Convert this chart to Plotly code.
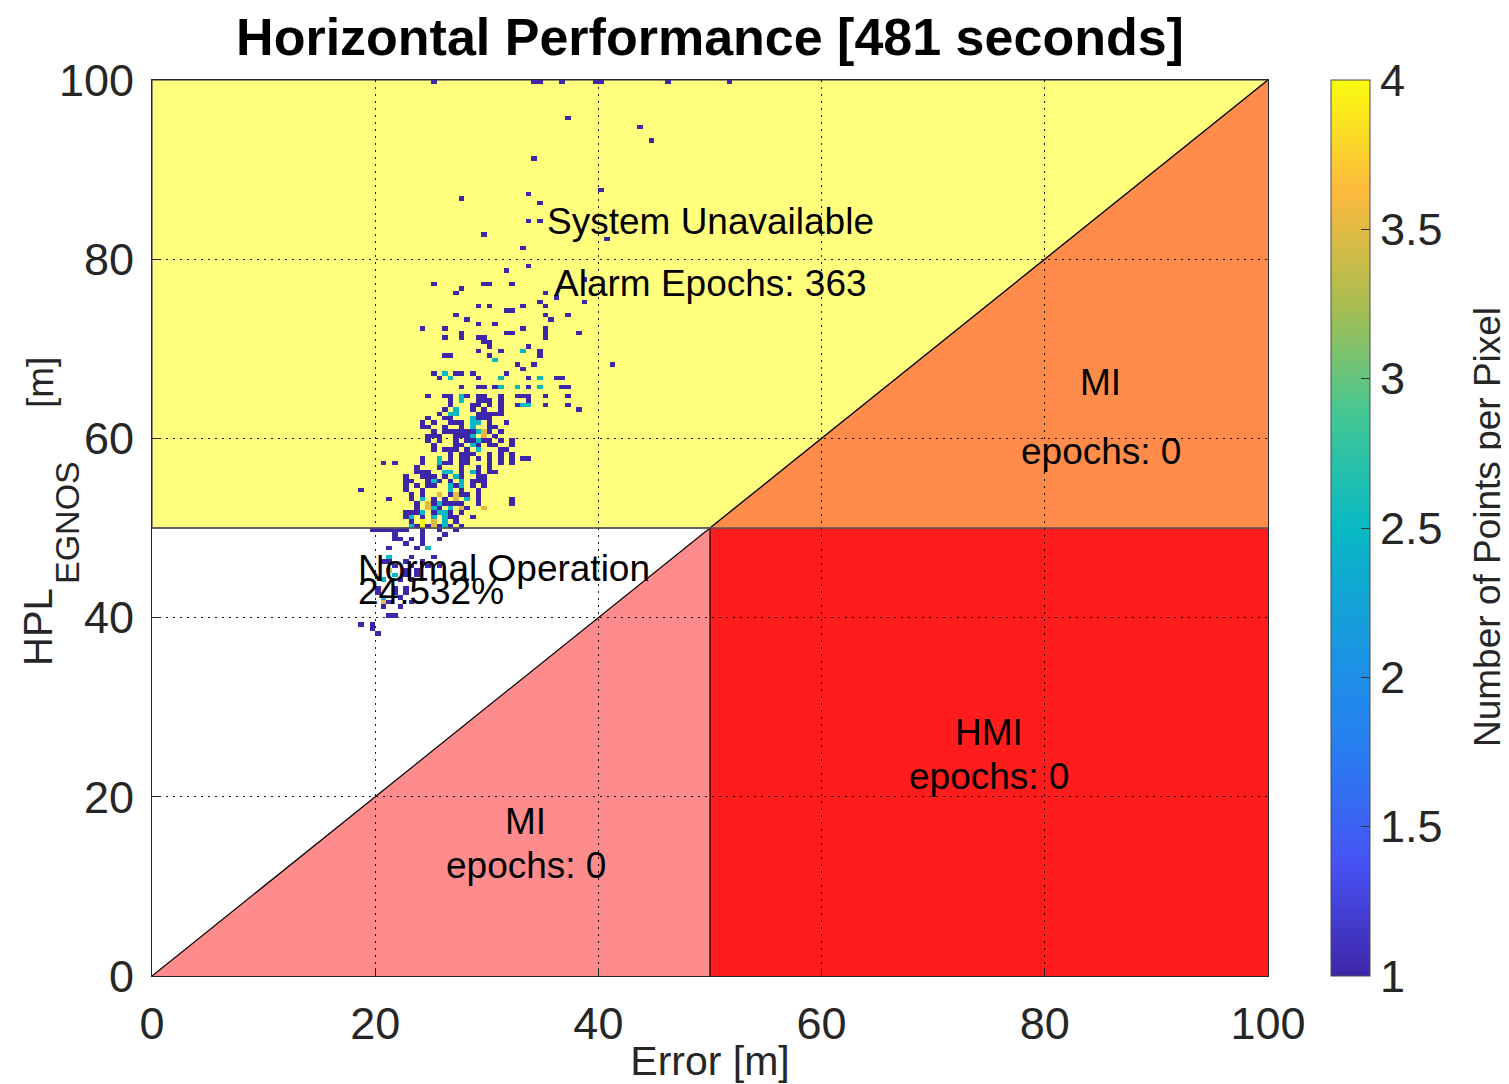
import numpy as np
import plotly.graph_objects as go

# ---------------- data ----------------
alarm_limit = 50
total_seconds = 481
alarm_epochs = 363
normal_pct = "24.532%"
mi_upper_epochs = 0
mi_lower_epochs = 0
hmi_epochs = 0

x_ticks = [0, 20, 40, 60, 80, 100]
y_ticks = [0, 20, 40, 60, 80, 100]
cbar_ticks = [1, 1.5, 2, 2.5, 3, 3.5, 4]

# occupied pixels: error [m], HPL [m], points per pixel
err = [
    25.2, 34.3, 34.8, 36.7, 39.8, 40.3, 46.2, 51.7,
    37.3, 43.7, 44.7, 34.2, 40.2, 27.8, 33.7, 34.7, 33.7, 34.7, 29.7, 40.8, 33.2, 33.8, 31.7,
    25.2, 29.8, 30.3, 32.3, 38.7, 27.2, 27.8, 35.2, 36.3, 38.7, 34.7, 29.2, 30.2, 31.7, 32.2,
    33.2, 35.2, 27.2, 28.2, 35.2, 35.8, 37.3, 29.2, 30.7, 24.3, 26.3, 33.2, 35.2,
    27.8, 27.8, 31.7, 32.3, 35.2, 35.2, 38.2,
    26.3, 29.2, 29.7,
    29.7, 30.2,
    30.2, 33.8,
    29.2, 31.3, 34.7, 33.2,
    26.3, 26.8, 30.2, 34.7,
    30.7,
    32.7, 34.2, 41.3,
    33.2,
    25.2, 26.3, 27.2, 27.8, 28.8, 31.7,
    25.7, 26.7, 29.2, 31.3, 33.7, 34.8, 36.3, 36.8,
    27.8, 29.7, 30.7, 32.7,
    24.7, 26.3, 27.8, 29.2, 29.7, 31.3, 32.7, 33.2, 33.7, 35.2, 37.3,
    29.7, 30.2,
    31.3, 32.7, 33.7, 33.2,
    26.3, 27.2, 28.8, 29.7, 38.2,
    26.7, 27.2, 30.7,
    24.7, 28.8, 29.3, 29.7, 30.2,
    27.2, 28.8, 29.2, 31.7,
    24.0, 24.9, 26.3, 27.8, 28.8, 30.2, 30.7,
    26.7, 27.2, 27.8, 28.2, 28.8, 29.7,
    24.7, 25.5, 27.2, 28.2, 28.8, 30.7,
    24.7, 25.5, 28.2, 28.8, 29.7, 31.3, 32.3,
    25.2, 27.2, 27.7, 28.8, 29.2, 30.7,
    26.3, 27.2, 28.2, 29.2, 31.7,
    26.7, 27.8, 28.2, 29.2, 30.2, 33.2, 33.8,
    20.7, 21.8, 24.3, 25.7, 26.7, 28.2, 30.2, 31.3, 32.3,
    23.8, 25.7, 27.8, 29.2, 30.2,
    24.0, 24.5, 26.7, 27.8, 28.8, 30.2,
    24.7, 26.3, 27.2, 29.7,
    22.8, 23.3, 25.7, 27.8, 29.2, 29.7,
    22.8, 24.7, 27.2, 28.8,
    18.8, 22.8, 24.3, 26.7, 27.8, 29.2,
    23.3, 25.7, 27.2, 28.2,
    21.2, 24.0, 26.3, 27.2, 29.2, 32.3,
    24.7, 25.7, 26.7, 27.8,
    23.7, 25.3, 27.8, 29.7,
    22.8, 23.3, 24.3, 25.7, 26.3, 27.8,
    22.8, 24.3, 25.3, 26.7, 28.8,
    23.3, 24.3, 25.3, 26.3, 27.2,
    23.7, 24.7, 25.7, 26.7, 27.8,
    19.8, 20.3, 20.8, 21.3, 21.8, 22.3, 22.8, 24.3, 25.7, 27.2,
    21.8, 24.3, 26.3,
    21.8, 22.3, 23.3, 24.3, 25.7,
    22.8, 24.3,
    21.2, 23.7, 24.7,
    21.2, 23.3, 25.2,
    20.7, 21.2, 22.8, 24.3,
    21.8, 23.3, 24.7, 25.7,
    21.3, 22.8, 23.7,
    21.8, 22.8, 23.7,
    20.7, 22.3, 23.3,
    20.2, 21.8, 22.8,
    20.2, 21.8, 22.8,
    20.7, 22.3,
    20.7, 21.2, 23.3,
    20.7, 22.3,
    21.0, 21.5,
    18.8, 19.8,
    19.8,
    20.3,
]
hpl = [
    99.8, 99.8, 99.8, 99.8, 99.8, 99.8, 99.8, 99.8,
    95.8, 94.8, 93.3, 91.3, 87.8, 86.8, 87.3, 86.3, 84.3, 84.3, 82.8, 82.3, 81.3, 79.2, 78.8,
    77.2, 77.2, 77.2, 77.2, 77.8, 76.3, 76.8, 76.3, 75.7, 75.2, 75.2, 74.8, 74.8, 74.2, 74.2,
    74.8, 74.8, 73.7, 73.2, 73.7, 73.2, 73.7, 72.8, 72.8, 72.3, 72.3, 72.3, 72.3,
    71.8, 71.3, 71.8, 71.8, 71.8, 71.3, 71.8,
    71.2, 71.2, 71.2,
    70.8, 70.8,
    70.2, 70.2,
    69.6, 69.6, 69.6, 69.6,
    69.1, 69.1, 69.1, 69.1,
    68.75,
    68.2, 68.2, 68.2,
    67.9,
    67.3, 67.3, 67.3, 67.3, 67.3, 67.3,
    66.7, 66.7, 66.7, 66.7, 66.7, 66.7, 66.7, 66.7,
    65.7, 65.7, 65.7, 65.7,
    64.7, 64.7, 64.7, 64.7, 64.7, 64.7, 64.7, 64.7, 64.7, 64.7, 64.7,
    64.3, 64.3,
    63.8, 63.8, 63.8, 63.8,
    63.4, 63.4, 63.4, 63.4, 63.4,
    62.8, 62.8, 62.8,
    62.3, 62.3, 62.3, 62.3, 62.3,
    61.7, 61.7, 61.7, 61.7,
    61.2, 61.2, 61.2, 61.2, 61.2, 61.2, 61.2,
    60.7, 60.7, 60.7, 60.7, 60.7, 60.7,
    60.2, 60.2, 60.2, 60.2, 60.2, 60.2,
    59.6, 59.6, 59.6, 59.6, 59.6, 59.6, 59.6,
    59.0, 59.0, 59.0, 59.0, 59.0, 59.0,
    58.5, 58.5, 58.5, 58.5, 58.5,
    57.9, 57.9, 57.9, 57.9, 57.9, 57.9, 57.9,
    57.3, 57.3, 57.3, 57.3, 57.3, 57.3, 57.3, 57.3, 57.3,
    56.7, 56.7, 56.7, 56.7, 56.7,
    56.1, 56.1, 56.1, 56.1, 56.1, 56.1,
    55.6, 55.6, 55.6, 55.6,
    55.1, 55.1, 55.1, 55.1, 55.1, 55.1,
    54.7, 54.7, 54.7, 54.7,
    54.1, 54.1, 54.1, 54.1, 54.1, 54.1,
    53.7, 53.7, 53.7, 53.7,
    53.1, 53.1, 53.1, 53.1, 53.1, 53.1,
    52.8, 52.8, 52.8, 52.8,
    52.2, 52.2, 52.2, 52.2,
    51.7, 51.7, 51.7, 51.7, 51.7, 51.7,
    51.2, 51.2, 51.2, 51.2, 51.2,
    50.7, 50.7, 50.7, 50.7, 50.7,
    50.1, 50.1, 50.1, 50.1, 50.1,
    49.8, 49.8, 49.8, 49.8, 49.8, 49.8, 49.8, 49.8, 49.8, 49.8,
    49.2, 49.2, 49.2,
    48.7, 48.7, 48.7, 48.7, 48.7,
    48.1, 48.1,
    47.5, 47.5, 47.5,
    46.9, 46.9, 46.9,
    46.4, 46.4, 46.4, 46.4,
    45.9, 45.9, 45.9, 45.9,
    45.3, 45.3, 45.3,
    44.5, 44.5, 44.5,
    44.0, 44.0, 44.0,
    43.3, 43.3, 43.3,
    42.7, 42.7, 42.7,
    42.2, 42.2,
    41.6, 41.6, 41.6,
    41.2, 41.2,
    40.3, 40.3,
    39.4, 39.4,
    38.6,
    38.3,
]
cnt = [
    1, 1, 1, 1, 1, 1, 1, 1,
    1, 1, 1, 1, 1, 1, 1, 1, 1, 1, 1, 1, 1, 1, 1,
    1, 1, 1, 1, 1, 1, 1, 1, 1, 1, 1, 1, 1, 1, 1,
    1, 1, 1, 1, 1, 1, 1, 1, 1, 1, 1, 1, 1,
    1, 1, 1, 1, 1, 1, 1,
    1, 1, 1,
    1, 1,
    1, 1,
    1, 1, 1, 2.5,
    1, 1, 1, 1,
    2.5,
    1, 1, 1,
    1,
    1, 2.5, 1, 1, 1, 1,
    1, 2.5, 1, 2.5, 1, 2.5, 1, 1,
    1, 1, 1, 2.5,
    1, 1, 2.5, 1, 1, 1, 1, 1, 1, 1, 1,
    1, 1,
    1, 1, 1, 2.5,
    1, 1, 1, 1, 1,
    1, 2.5, 1,
    1, 1, 1, 1, 1,
    1, 2.5, 2.5, 1,
    1, 1, 1, 1, 2.5, 1, 1,
    1, 1, 1, 1, 1, 3.5,
    1, 1, 1, 1, 2.5, 1,
    1, 1, 1, 1, 1, 1, 1,
    1, 1, 1, 2.5, 1, 1,
    1, 1, 1, 1, 1,
    1, 1, 1, 1, 1, 1, 1,
    1, 1, 1, 2.5, 1, 1, 1, 1, 1,
    1, 1, 1, 1, 1,
    1, 1, 1, 1, 2.5, 1,
    1, 1, 2.5, 1,
    1, 1, 1, 1, 1, 1,
    1, 1, 1, 1,
    1, 1, 1, 2.5, 1, 1,
    1, 3.5, 3.5, 1,
    1, 1, 1, 1, 1, 1,
    3.5, 2.5, 1, 1,
    1, 2.5, 1, 3.5,
    1, 1, 2.5, 2.5, 2.5, 1,
    1, 1, 1, 1, 1,
    1, 4, 3.5, 2.5, 1,
    1, 1, 1, 1, 1,
    1, 1, 1, 1, 1, 1, 1, 1, 1, 1,
    1, 1, 1,
    1, 1, 1, 1, 1,
    1, 1,
    1, 1, 2.5,
    2.5, 1, 1,
    1, 1, 1, 1,
    1, 1, 1, 1,
    3.5, 1, 1,
    2.5, 1, 1,
    2.5, 1, 1,
    1, 1, 1,
    1, 1, 1,
    2.5, 1,
    3.5, 1, 1,
    1, 1,
    1, 1,
    1, 1,
    1,
    1,
]

# additional pixels read from the dense core of the cloud
err_core = [
    27.78, 29.21, 31.18, 32.71, 33.69, 34.77, 36.56, 37.0,
    24.73, 26.25, 26.70, 28.23, 29.39, 31.18, 32.71, 33.60,
    26.70, 27.60, 29.39, 30.11, 31.18, 33.69,
    26.70, 28.67, 29.39, 30.11, 31.18, 33.60, 35.22, 37.28,
    26.25, 27.15, 28.67, 31.18,
    25.81, 26.70, 29.12, 29.66, 30.29, 31.18,
    24.73, 26.25, 26.97, 28.67, 30.02,
    24.19, 25.18, 26.70, 27.87, 28.76, 30.02, 31.81,
    25.18, 26.25, 26.70, 27.15, 27.78, 28.23, 29.21, 30.29, 31.18,
    25.18, 27.60, 28.67, 29.66, 30.73,
    24.64, 25.63, 27.15, 28.23, 29.12, 30.02, 31.18,
    25.18, 27.15, 28.67, 29.39, 30.29, 32.08,
    25.18, 26.08, 26.70, 27.33, 28.23, 29.12, 31.18,
    26.70, 27.60, 28.23, 28.67, 30.11, 31.45, 32.08,
    24.19, 25.63, 26.70, 28.23, 31.18, 32.26, 33.42, 33.90,
    26.08, 27.60, 28.49, 30.29,
    23.75, 24.64, 26.08, 26.97, 29.12, 30.11, 30.73,
    22.67, 24.19, 25.18, 27.60, 29.12, 29.39,
    23.12, 24.64, 25.18, 26.70, 27.78, 28.67, 29.21,
    22.67, 23.75, 25.18, 26.70, 27.78, 29.66,
    23.39, 24.19, 25.63, 26.70, 27.78, 29.21,
    23.12, 24.19, 25.18, 27.15, 28.23,
    23.75, 25.18, 26.08, 27.15, 29.21, 32.26,
    24.73, 25.81, 26.70, 27.78, 28.23, 29.66,
    22.67, 23.12, 23.75, 25.18, 26.25, 26.70, 27.78,
    22.67, 23.39, 24.19, 25.18, 26.25, 27.15, 28.67,
    23.12, 24.19, 25.18, 26.08, 26.97,
]
hpl_core = [
    65.96, 65.96, 65.96, 65.96, 65.96, 65.96, 65.96, 65.96,
    64.84, 64.84, 64.84, 64.84, 64.84, 64.84, 64.84, 64.84,
    64.29, 64.29, 64.29, 64.29, 64.29, 64.29,
    63.73, 63.73, 63.73, 63.73, 63.73, 63.73, 63.73, 63.73,
    63.28, 63.28, 63.28, 63.28,
    62.83, 62.83, 62.83, 62.83, 62.83, 62.83,
    62.28, 62.28, 62.28, 62.28, 62.28,
    61.72, 61.72, 61.72, 61.72, 61.72, 61.72, 61.72,
    60.94, 60.94, 60.94, 60.94, 60.94, 60.94, 60.94, 60.94, 60.94,
    60.38, 60.38, 60.38, 60.38, 60.38,
    59.82, 59.82, 59.82, 59.82, 59.82, 59.82, 59.82,
    59.26, 59.26, 59.26, 59.26, 59.26, 59.26,
    58.71, 58.71, 58.71, 58.71, 58.71, 58.71, 58.71,
    58.15, 58.15, 58.15, 58.15, 58.15, 58.15, 58.15,
    57.70, 57.70, 57.70, 57.70, 57.70, 57.70, 57.70, 57.70,
    57.03, 57.03, 57.03, 57.03,
    56.47, 56.47, 56.47, 56.47, 56.47, 56.47, 56.47,
    55.69, 55.69, 55.69, 55.69, 55.69, 55.69,
    55.13, 55.13, 55.13, 55.13, 55.13, 55.13, 55.13,
    54.58, 54.58, 54.58, 54.58, 54.58, 54.58,
    53.91, 53.91, 53.91, 53.91, 53.91, 53.91,
    53.35, 53.35, 53.35, 53.35, 53.35,
    52.79, 52.79, 52.79, 52.79, 52.79, 52.79,
    52.23, 52.23, 52.23, 52.23, 52.23, 52.23,
    51.67, 51.67, 51.67, 51.67, 51.67, 51.67, 51.67,
    51.12, 51.12, 51.12, 51.12, 51.12, 51.12, 51.12,
    50.33, 50.33, 50.33, 50.33, 50.33,
]
cnt_core = [
    1, 1, 2.5, 2.5, 1, 2.5, 1, 1,
    1, 1, 1, 1, 1, 1, 1, 1,
    1, 2.5, 1, 1, 1, 1,
    1, 1, 1, 1, 1, 2.5, 1, 1,
    1, 2.5, 1, 1,
    1, 2.5, 1, 1, 1, 1,
    1, 1, 1, 2.5, 1,
    1, 1, 1, 1, 2.5, 1, 1,
    1, 1, 1, 1, 1, 1, 2.5, 1, 1,
    1, 1, 2.5, 3.5, 1,
    1, 1, 1, 1, 2.5, 1, 1,
    1, 1, 1, 1, 1, 1,
    1, 1, 1, 1, 1, 2.5, 1,
    1, 1, 1, 1, 1, 1, 1,
    1, 2.5, 1, 1, 1, 1, 1, 1,
    1, 1, 1, 1,
    1, 1, 2.5, 2.5, 1, 1, 1,
    1, 1, 1, 1, 1, 1,
    1, 1, 2.5, 1, 2.5, 1, 1,
    1, 1, 1, 2.5, 2.5, 1,
    1, 1, 3.5, 1, 1, 1,
    1, 2.5, 1, 3.5, 2.5,
    1, 1, 1, 1, 1, 1,
    3.5, 1, 2.5, 3.5, 1, 3.5,
    1, 1, 1, 1, 2.5, 1, 1,
    1, 2.5, 1, 2.5, 2.5, 1, 1,
    2.5, 4, 3.5, 2.5, 1,
]

# ---------------- binning into pixels ----------------
pix = 0.5
nb = int(100 / pix)
centers = np.arange(nb) * pix + pix / 2
Z = np.full((nb, nb), np.nan)
for xe, yh, c in zip(err + err_core, hpl + hpl_core, cnt + cnt_core):
    ix = min(int(xe // pix), nb - 1)
    iy = min(int(yh // pix), nb - 1)
    Z[iy, ix] = np.fmax(Z[iy, ix], c)

parula = [
    [0.0, "rgb(62,38,168)"],
    [0.125, "rgb(71,82,244)"],
    [0.25, "rgb(40,125,240)"],
    [0.333, "rgb(30,142,232)"],
    [0.5, "rgb(8,185,196)"],
    [0.625, "rgb(66,199,148)"],
    [0.75, "rgb(170,189,80)"],
    [0.875, "rgb(252,186,62)"],
    [1.0, "rgb(249,251,14)"],
]

FONT = "Liberation Sans, Arial, Helvetica, sans-serif"
TXT = "#262626"

# page body has an 8px margin: size the figure so the axes land where intended
W, H = 1501, 1076
ML, MT = 144, 72
PW, PH = 1116, 896


def px_x(sx):
    """screen x (reference picture) -> paper x"""
    return (sx - 8 - ML) / PW


def px_y(sy):
    """screen y (reference picture) -> paper y"""
    return (MT + PH - (sy - 8)) / PH


fig = go.Figure()

fig.add_trace(go.Heatmap(
    x=centers, y=centers, z=Z,
    colorscale=parula, zmin=1, zmax=4,
    hoverongaps=False,
    colorbar=dict(
        thickness=39, thicknessmode="pixels",
        len=1, lenmode="fraction",
        x=px_x(1331 - 10), xanchor="left", xref="paper", xpad=10,
        y=0.5, yanchor="middle", ypad=0,
        outlinecolor="#4d4d4d", outlinewidth=1,
        tickvals=cbar_ticks, ticktext=[f"{v:g}" for v in cbar_ticks],
        ticks="inside", ticklen=9, tickcolor="#333333",
        tickfont=dict(size=45, color=TXT, family=FONT),
    ),
))

AL = alarm_limit
shapes = [
    dict(type="path", path=f"M 0 {AL} L 0 100 L 100 100 L {AL} {AL} Z",
         fillcolor="rgb(255,255,125)", line=dict(color="#6e6e6e", width=1.5), layer="below"),
    dict(type="path", path=f"M {AL} {AL} L 100 100 L 100 {AL} Z",
         fillcolor="rgb(255,140,75)", line=dict(width=0), layer="below"),
    dict(type="rect", x0=AL, x1=100, y0=0, y1=AL,
         fillcolor="rgb(255,28,28)", line=dict(width=0), layer="below"),
    dict(type="path", path=f"M 0 0 L {AL} {AL} L {AL} 0 Z",
         fillcolor="rgb(255,140,140)", line=dict(width=0), layer="below"),
    dict(type="line", x0=0, y0=0, x1=100, y1=100, line=dict(color="black", width=1.2), layer="above"),
    dict(type="line", x0=AL, y0=0, x1=AL, y1=AL, line=dict(color="black", width=1.2), layer="above"),
    dict(type="line", x0=0, y0=AL, x1=100, y1=AL, line=dict(color="#555555", width=1.5), layer="above"),
]

ann_font = dict(size=37, color="black", family=FONT)
annotations = [
    dict(x=50, y=84.2, text="System Unavailable"),
    dict(x=50, y=77.3, text=f"Alarm Epochs: {alarm_epochs}"),
    dict(x=85, y=66.2, text="MI"),
    dict(x=85, y=58.5, text=f"epochs: {mi_upper_epochs}"),
    dict(x=75, y=27.2, text="HMI"),
    dict(x=75, y=22.3, text=f"epochs: {hmi_epochs}"),
    dict(x=33.5, y=17.2, text="MI"),
    dict(x=33.5, y=12.3, text=f"epochs: {mi_lower_epochs}"),
    dict(x=18.3, y=45.5, text="Normal Operation", xanchor="left"),
    dict(x=18.3, y=42.9, text=normal_pct, xanchor="left"),
]
for a in annotations:
    a.setdefault("xanchor", "center")
    a.update(xref="x", yref="y", showarrow=False, yanchor="middle", font=ann_font)

# y-axis label with a MATLAB-like deep subscript, and the colorbar label
label_parts = [
    dict(text="HPL", sx=38, sy=627, size=40),
    dict(text="EGNOS", sx=67, sy=523, size=34),
    dict(text="[m]", sx=40, sy=383, size=37),
    dict(text="Number of Points per Pixel", sx=1487, sy=527, size=37),
]
for p in label_parts:
    annotations.append(dict(
        text=p["text"], x=px_x(p["sx"]), y=px_y(p["sy"]), xref="paper", yref="paper",
        xanchor="center", yanchor="middle", textangle=-90, showarrow=False,
        font=dict(size=p["size"], color=TXT, family=FONT),
    ))

axis_common = dict(
    range=[0, 100], showline=True, linecolor="#262626", linewidth=1, mirror=True,
    showgrid=True, gridcolor="rgba(0,0,0,0.9)", griddash="2px,5px", gridwidth=1.3,
    zeroline=False, ticks="inside", ticklen=8, tickcolor="#262626",
    tickfont=dict(size=45, color=TXT, family=FONT), layer="above traces",
)

fig.update_layout(
    width=W, height=H,
    margin=dict(l=ML, r=W - ML - PW, t=MT, b=H - MT - PH, autoexpand=False),
    paper_bgcolor="white", plot_bgcolor="white",
    title=dict(text=f"Horizontal Performance [{total_seconds} seconds]",
               x=(152 + 1268) / 2 / W - 8 / W, xanchor="center", xref="container",
               y=1 - 29 / H, yanchor="middle", yref="container",
               font=dict(size=52, color="black", family=FONT, weight="bold")),
    xaxis=dict(**axis_common, tickvals=x_ticks, ticklabelstandoff=8,
               title=dict(text="Error [m]", standoff=0,
                          font=dict(size=41, color=TXT, family=FONT))),
    yaxis=dict(**axis_common, tickvals=y_ticks, ticklabelstandoff=8),
    shapes=shapes, annotations=annotations, showlegend=False,
)

fig.write_html("out.html")
